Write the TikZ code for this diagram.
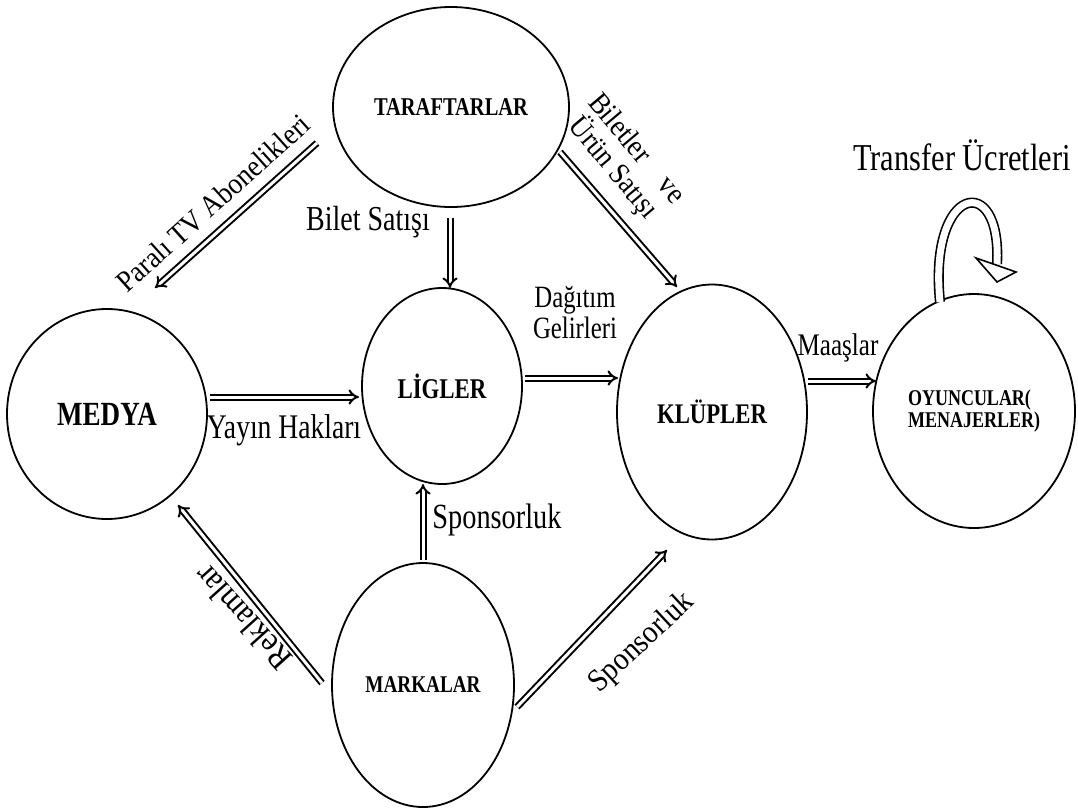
\documentclass[tikz,border=0pt]{standalone}
\usepackage{fontspec}
\usepackage{graphicx}
\setmainfont{Liberation Serif}
\newfontfamily\rfont[FakeStretch=0.8]{Liberation Serif}
\usetikzlibrary{shapes.geometric,arrows.meta}
\tikzset{
  circ/.style={ellipse, draw, line width=1.8pt, inner sep=0pt},
  btext/.style={font=\rfont\bfseries\fontsize{#1}{#1}\selectfont},
  ltext/.style={font=\rfont\fontsize{#1}{#1}\selectfont, align=center, inner sep=0pt},
  rtext/.style={font=\rmfamily\fontsize{#1}{#1}\selectfont, inner sep=0pt},
  dbl/.style={double, double distance=3pt, line width=2pt, -{Implies}},
}
\newcommand{\nrw}[2][0.9]{\scalebox{#1}[1]{#2}}
\begin{document}
\begin{tikzpicture}[x=1pt,y=-1pt]
\useasboundingbox (0,0) rectangle (1078,809);
% nodes
\node[circ, minimum width=236pt, minimum height=200pt, btext=25.6] (taraf) at (451,107) {TARAFTARLAR};
\node[circ, minimum width=200pt, minimum height=210pt, btext=33.8] (medya) at (107,414) {MEDYA};
\node[circ, minimum width=160pt, minimum height=196pt, btext=28.6] (lig) at (442,386) {LİGLER};
\node[circ, minimum width=190pt, minimum height=255pt, btext=28.4] (klup) at (712,412) {KLÜPLER};
\node[circ, minimum width=202pt, minimum height=234pt, btext=22.5, align=left] (oyun) at (974,411) {OYUNCULAR(\\MENAJERLER)};
\node[circ, minimum width=182pt, minimum height=244pt, btext=24] (marka) at (423,685) {MARKALAR};
% connector end points (arrows float between the ellipses)
\coordinate (p1a) at (317,143); \coordinate (p1b) at (155,288);
\coordinate (p2a) at (450,218); \coordinate (p2b) at (450,288);
\coordinate (p3a) at (560,152); \coordinate (p3b) at (677,287);
\coordinate (p4a) at (210,397); \coordinate (p4b) at (359,397);
\coordinate (p5a) at (525,378); \coordinate (p5b) at (618,378);
\coordinate (p6a) at (808,381); \coordinate (p6b) at (876,381);
\coordinate (p7a) at (423,560); \coordinate (p7b) at (423,484);
\coordinate (p8a) at (322,683); \coordinate (p8b) at (178,505);
\coordinate (p9a) at (517,707); \coordinate (p9b) at (667,550);
\draw[dbl] (p1a) -- (p1b);
\draw[dbl] (p2a) -- (p2b);
\draw[dbl] (p3a) -- (p3b);
\draw[dbl] (p4a) -- (p4b);
\draw[dbl] (p5a) -- (p5b);
\draw[dbl] (p6a) -- (p6b);
\draw[dbl] (p7a) -- (p7b);
\draw[dbl] (p8a) -- (p8b);
\draw[dbl] (p9a) -- (p9b);
% transfer loop
\coordinate (lpa) at (940,302);
\coordinate (lpb) at (997,264);
\draw[double, double distance=7pt, line width=1.6pt] (lpa) .. controls (928,185) and (1002,170) .. (lpb);
\draw[line width=1.6pt, fill=white, line join=miter] (976,258) -- (1016,272) -- (997,282) -- cycle;
% labels
\node[rtext=30, rotate=42] (l1) at (213,203) {\nrw{Paralı TV Abonelikleri}};
\node[ltext=35] (l2) at (368,222) {Bilet Satışı};
\node[rtext=30, rotate=-50] (l3) at (623,160) {\nrw{\begin{tabular}{@{}c@{}}Biletler\quad ve\\[-3pt]Ürün Satışı\end{tabular}}};
\node[ltext=31] (l4) at (575,313) {Dağıtım\\Gelirleri};
\node[ltext=31.4] (l5) at (838,348) {Maaşlar};
\node[ltext=38] (l6) at (962,155) {Transfer Ücretleri};
\node[ltext=34.5] (l7) at (284,430) {Yayın Hakları};
\node[ltext=35.4] (l8) at (497,520) {Sponsorluk};
\node[rtext=34, rotate=132] (l9) at (243,618) {\nrw{Reklamlar}};
\node[rtext=32, rotate=43] (l10) at (642,643) {\nrw{Sponsorluk}};
\end{tikzpicture}
\end{document}
